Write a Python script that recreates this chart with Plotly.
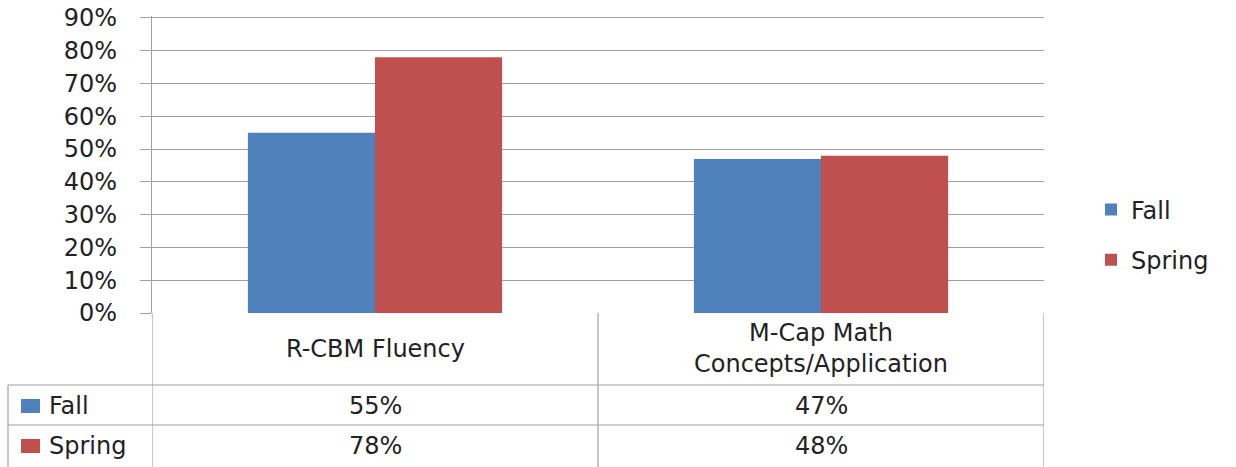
import plotly.graph_objects as go

categories = ["R-CBM Fluency", "M-Cap Math<br>Concepts/Application"]
series_names = ["Fall", "Spring"]
fall_values = [0.55, 0.47]
spring_values = [0.78, 0.48]
value_labels = {"Fall": ["55%", "47%"], "Spring": ["78%", "48%"]}
y_ticks = [0, 0.1, 0.2, 0.3, 0.4, 0.5, 0.6, 0.7, 0.8, 0.9]
y_max = 0.906

colors = {"Fall": "#4F81BD", "Spring": "#C0504D"}
FONT = "DejaVu Sans"
TXT = "#222222"
GRID = "#A0A0A0"
FS = 24

W, H = 1236, 467
PB = 313                      # y pixel of 0%
scale = (313 - 18) / 0.9      # px per unit (90% at y=18)
PL, PR = 152, 1044
PT = round(PB - y_max * scale)
L, T = PL, PT
R = W - PR
B = H - PB
pw, ph = PR - PL, PB - PT


def px_x(px):
    return (px - PL) / pw


def px_y(py):
    return (PB - py) / ph


fig = go.Figure()
for name, vals in zip(series_names, [fall_values, spring_values]):
    fig.add_trace(go.Bar(
        x=list(range(len(categories))), y=vals, name=name,
        marker=dict(color=colors[name], line=dict(width=0)),
        legendgroup=name, hoverinfo="skip",
    ))

shapes = []
line = dict(color=GRID, width=1.2)
bottom = px_y(H)
for xv in [-0.5, 0.5, 1.5]:
    shapes.append(dict(type="line", xref="x", yref="paper", x0=xv, x1=xv,
                       y0=0, y1=bottom, line=line))
for py in [385, 425]:
    shapes.append(dict(type="line", xref="paper", yref="paper", x0=px_x(8), x1=1,
                       y0=px_y(py), y1=px_y(py), line=line))
shapes.append(dict(type="line", xref="paper", yref="paper", x0=px_x(8), x1=px_x(8),
                   y0=px_y(385), y1=bottom, line=line))

annotations = []
for i, c in enumerate(categories):
    annotations.append(dict(x=i, y=px_y(349), xref="x", yref="paper", text=c,
                            showarrow=False, font=dict(family=FONT, size=FS, color=TXT),
                            xanchor="center", yanchor="middle"))
row_y = {"Fall": 406, "Spring": 446}
for name in series_names:
    for i, t in enumerate(value_labels[name]):
        annotations.append(dict(x=i, y=px_y(row_y[name]), xref="x", yref="paper", text=t,
                                showarrow=False, font=dict(family=FONT, size=FS, color=TXT),
                                xanchor="center", yanchor="middle"))
    shapes.append(dict(type="rect", xref="paper", yref="paper",
                       x0=px_x(21), x1=px_x(40), y0=px_y(row_y[name] - 7), y1=px_y(row_y[name] + 7),
                       fillcolor=colors[name], line=dict(width=0)))
    annotations.append(dict(x=px_x(47), y=px_y(row_y[name]), xref="paper", yref="paper", text=name,
                            showarrow=False, font=dict(family=FONT, size=FS, color=TXT),
                            xanchor="left", yanchor="middle"))

fig.update_layout(
    width=W, height=H,
    margin=dict(l=L, r=R, t=T, b=B, autoexpand=False),
    paper_bgcolor="white", plot_bgcolor="white",
    barmode="group", bargap=0.43, bargroupgap=0,
    showlegend=True,
    legend=dict(x=px_x(1091), y=px_y(235), xanchor="left", yanchor="middle",
                font=dict(family=FONT, size=FS, color=TXT),
                traceorder="grouped", tracegroupgap=16, itemwidth=30,
                bgcolor="rgba(0,0,0,0)"),
    shapes=shapes, annotations=annotations,
    font=dict(family=FONT, size=FS, color=TXT),
)
fig.update_xaxes(range=[-0.5, 1.5], showticklabels=False, showgrid=False, zeroline=False,
                 showline=False, ticks="", fixedrange=True)
fig.update_yaxes(range=[0, y_max], tickvals=y_ticks, tickformat=".0%", showgrid=True,
                 gridcolor=GRID, gridwidth=1.2, zeroline=False, showline=True,
                 linecolor=GRID, linewidth=1.2, ticks="outside", ticklen=11,
                 tickcolor=GRID, tickwidth=1.2, ticklabelstandoff=18,
                 ticklabeloverflow="allow",
                 tickfont=dict(family=FONT, size=FS, color=TXT), fixedrange=True)

fig.write_html("out.html", config={"displayModeBar": False},
               post_script="document.body.style.margin='0';")
